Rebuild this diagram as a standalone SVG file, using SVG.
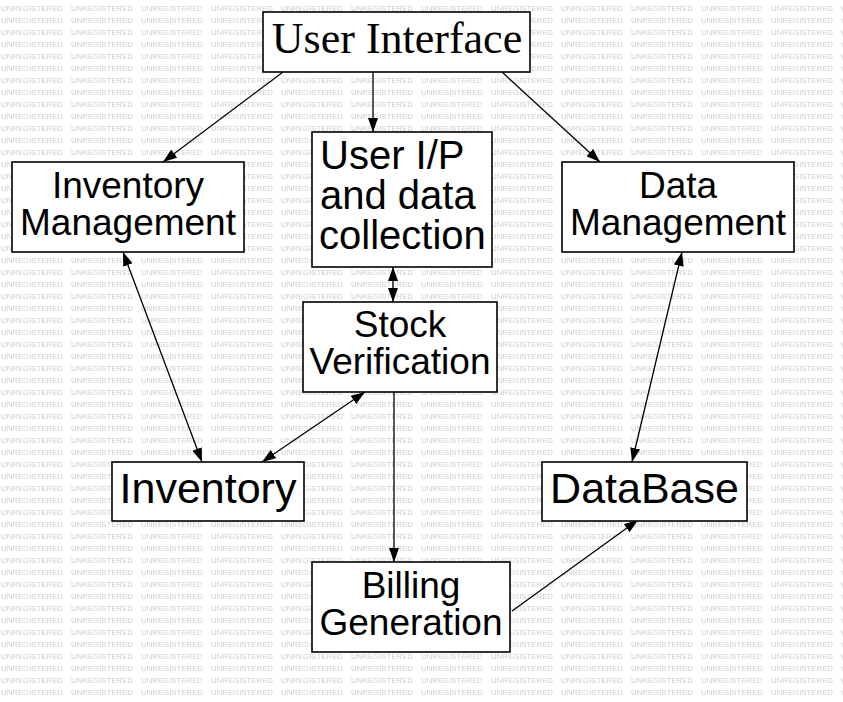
<svg xmlns="http://www.w3.org/2000/svg" width="843" height="702" viewBox="0 0 843 702">
<style>
.box{fill:#fff;stroke:#000;stroke-width:1.6}
.t{font-family:"Liberation Sans",Arial,sans-serif;fill:#000;text-anchor:middle}
.l{font-family:"Liberation Sans",Arial,sans-serif;fill:#000;text-anchor:start}
.s{font-family:"Liberation Serif","Times New Roman",serif;fill:#000;text-anchor:middle}
.c{stroke:#000;stroke-width:1.3;fill:none}
.wm{font-family:"Liberation Sans",Arial,sans-serif;font-size:8px;fill:#cdcdcd}
</style>
<defs>
<pattern id="wmp" patternUnits="userSpaceOnUse" x="1" y="0" width="70" height="12">
<text class="wm" x="0" y="10.5" textLength="62" lengthAdjust="spacingAndGlyphs">UNREGISTERED</text>
</pattern>
<marker id="ah" viewBox="0 0 14 10" refX="14" refY="5" markerWidth="14" markerHeight="10" markerUnits="userSpaceOnUse" orient="auto-start-reverse">
<path d="M0,0 L14,5 L0,10 z" fill="#000"/>
</marker>
</defs>
<rect width="843" height="702" fill="#fff"/>
<rect width="843" height="702" fill="url(#wmp)"/>
<g id="connectors">
<line class="c" x1="283" y1="72" x2="163" y2="162" marker-end="url(#ah)"/>
<line class="c" x1="373" y1="72" x2="373" y2="132" marker-end="url(#ah)"/>
<line class="c" x1="502" y1="72" x2="600" y2="162" marker-end="url(#ah)"/>
<line class="c" x1="393" y1="267" x2="393" y2="302" marker-start="url(#ah)" marker-end="url(#ah)"/>
<line class="c" x1="123" y1="252" x2="202" y2="462" marker-start="url(#ah)" marker-end="url(#ah)"/>
<line class="c" x1="365" y1="392" x2="262" y2="462" marker-start="url(#ah)" marker-end="url(#ah)"/>
<line class="c" x1="394" y1="392" x2="394" y2="562" marker-end="url(#ah)"/>
<line class="c" x1="682" y1="252" x2="632" y2="462" marker-start="url(#ah)" marker-end="url(#ah)"/>
<line class="c" x1="512" y1="611" x2="638" y2="520" marker-end="url(#ah)"/>
</g>
<g id="user-interface">
<rect class="box" x="263" y="12" width="267" height="60"/>
<text class="s" x="397" y="53" font-size="44">User Interface</text>
</g>
<g id="inventory-management">
<rect class="box" x="12" y="162" width="232" height="90"/>
<text class="t" x="128" y="198" font-size="37">Inventory</text>
<text class="t" x="128" y="235" font-size="37">Management</text>
</g>
<g id="user-ip">
<rect class="box" x="312" y="132" width="180" height="135"/>
<text class="l" x="320" y="169" font-size="40">User I/P</text>
<text class="l" x="320" y="209" font-size="40">and data</text>
<text class="l" x="319" y="249" font-size="40">collection</text>
</g>
<g id="data-management">
<rect class="box" x="562" y="162" width="232" height="90"/>
<text class="t" x="678" y="198" font-size="37">Data</text>
<text class="t" x="678" y="235" font-size="37">Management</text>
</g>
<g id="stock-verification">
<rect class="box" x="303" y="302" width="194" height="90"/>
<text class="t" x="400" y="337" font-size="37">Stock</text>
<text class="t" x="400" y="374" font-size="37">Verification</text>
</g>
<g id="inventory">
<rect class="box" x="112" y="462" width="192" height="59"/>
<text class="t" x="208" y="503" font-size="43">Inventory</text>
</g>
<g id="database">
<rect class="box" x="542" y="462" width="205" height="59"/>
<text class="t" x="644.5" y="503" font-size="43">DataBase</text>
</g>
<g id="billing-generation">
<rect class="box" x="312" y="562" width="198" height="90"/>
<text class="t" x="411" y="598" font-size="37">Billing</text>
<text class="t" x="411" y="635" font-size="37">Generation</text>
</g>
</svg>
